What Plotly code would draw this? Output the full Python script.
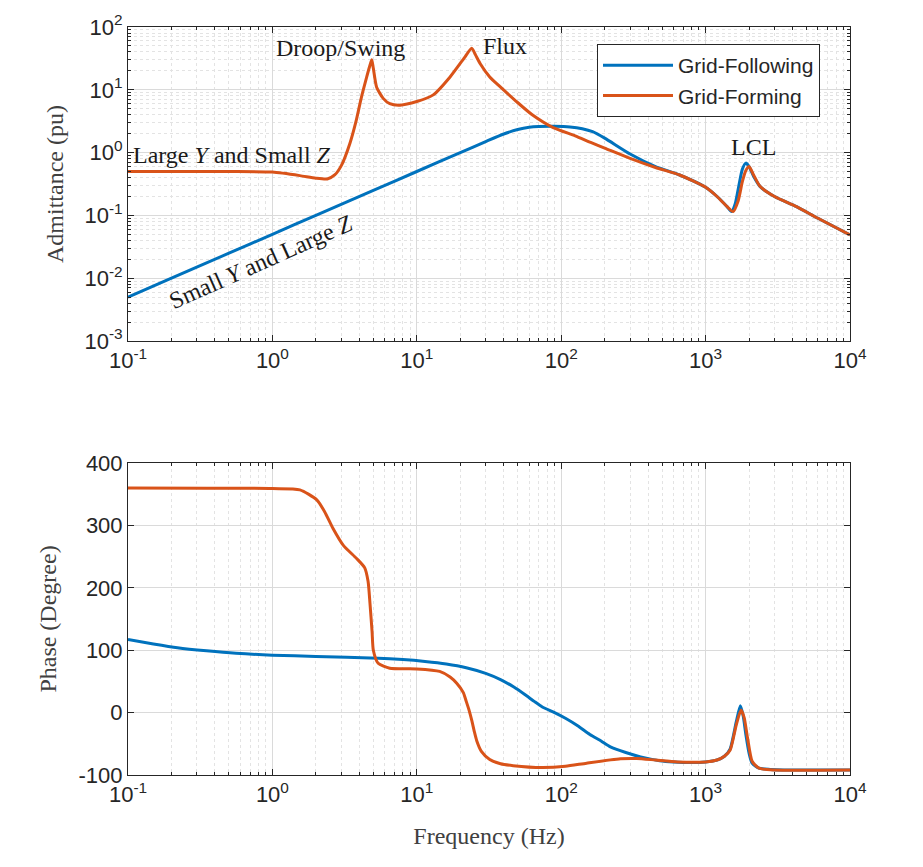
import plotly.graph_objects as go

# ---------------- data ----------------
freq_gfl_mag = [0.1, 0.2, 0.5, 1, 2, 5, 10, 20, 30, 40, 50, 60, 70, 90, 115, 140, 165, 200, 300,
                450, 661, 1000, 1200, 1400, 1510, 1600, 1700, 1800, 1900, 2000, 2150, 2380,
                3000, 4260, 6000, 10000]
mag_gfl = [0.005, 0.01, 0.025, 0.05, 0.1, 0.25, 0.5, 1.0, 1.5, 1.98, 2.33, 2.53, 2.6, 2.62, 2.56,
           2.4, 2.15, 1.7, 0.95, 0.6, 0.44, 0.28, 0.2, 0.14, 0.115, 0.15, 0.3, 0.55, 0.68,
           0.6, 0.42, 0.29, 0.2, 0.138, 0.09, 0.049]

freq_gfm_mag = [0.1, 0.5, 1.0, 1.55, 2.0, 2.4, 2.7, 3.0, 3.44, 3.8, 4.1, 4.5, 4.75, 4.88, 5.0,
                5.27, 5.85, 6.5, 7.65, 10, 13, 17, 21.2, 24, 25.5, 27.5, 32, 37.7, 49, 63, 88,
                125, 160, 200, 300, 450, 661, 1000, 1200, 1400, 1550, 1680, 1800, 1900, 2000,
                2150, 2380, 3000, 4260, 6000, 10000]
mag_gfm = [0.5, 0.5, 0.49, 0.43, 0.39, 0.38, 0.44, 0.62, 1.4, 3.2, 7.0, 16, 25, 30, 22,
           11, 7.3, 6.0, 5.7, 6.5, 8.3, 16, 31.6, 46, 36, 26, 16, 11.2, 6.5, 4.0, 2.5,
           1.85, 1.45, 1.18, 0.81, 0.58, 0.44, 0.28, 0.2, 0.14, 0.115, 0.17, 0.35, 0.52, 0.6,
           0.44, 0.29, 0.2, 0.138, 0.09, 0.049]

freq_gfl_ph = [0.1, 0.15, 0.22, 0.35, 0.56, 1.0, 2.0, 5.4, 8, 11.4, 16, 22, 30, 38, 47, 56, 65,
               74, 90, 107, 130, 158, 190, 219, 280, 355, 480, 600, 800, 1000, 1200, 1350,
               1480, 1630, 1740, 1820, 1900, 2000, 2100, 2340, 2800, 3500, 10000]
ph_gfl = [117, 110, 104, 99, 95, 92, 90, 87, 85, 82, 78, 72, 63, 53, 41, 29, 18,
          9, 0, -9, -21, -35, -46, -55, -64, -71, -77, -79, -80, -79, -76, -70,
          -58, -15, 11, -5, -35, -65, -81, -89, -91, -92, -92]

freq_gfm_ph = [0.1, 1.0, 1.55, 2.03, 2.3, 2.63, 3.1, 3.83, 4.36, 4.6, 4.74, 4.9, 5.0, 5.4, 6.5,
               10, 14.4, 17, 18.9, 21, 22, 23, 24, 25, 26, 28, 32, 38, 46.5, 74, 107, 150, 257,
               333, 450, 640, 1000, 1200, 1350, 1480, 1630, 1760, 1850, 1950, 2100, 2340, 3000,
               10000]
ph_gfm = [360, 359, 357, 341, 322, 295, 268, 247, 232, 210, 175, 130, 100, 79, 71,
          70, 66, 57, 47, 32, 18, 4, -12, -30, -45, -62, -75, -82, -85, -88, -86, -81, -74,
          -73.5, -76, -79, -79, -76, -70, -60, -20, 4, -8, -40, -78, -89, -92, -92]

x_ticks = [0.1, 1, 10, 100, 1000, 10000]
x_ticktext = ["10<sup>-1</sup>", "10<sup>0</sup>", "10<sup>1</sup>", "10<sup>2</sup>",
              "10<sup>3</sup>", "10<sup>4</sup>"]
y_mag_ticks = [0.001, 0.01, 0.1, 1, 10, 100]
y_mag_ticktext = ["10<sup>-3</sup>", "10<sup>-2</sup>", "10<sup>-1</sup>", "10<sup>0</sup>",
                  "10<sup>1</sup>", "10<sup>2</sup>"]
y_ph_ticks = [-100, 0, 100, 200, 300, 400]
y_ph_ticktext = ["-100", "0", "100", "200", "300", "400"]

series_names = ["Grid-Following", "Grid-Forming"]
colors = ["#0072BD", "#D95319"]

# minor log ticks (2..9 in each decade)
x_minor = [m * 10.0 ** k for k in range(-1, 4) for m in range(2, 10)]
y_minor = [m * 10.0 ** k for k in range(-3, 2) for m in range(2, 10)]

# ---------------- figure ----------------
fig = go.Figure()
line_kw = dict(width=3, shape="spline", smoothing=0.6)
fig.add_trace(go.Scatter(x=freq_gfl_mag, y=mag_gfl, mode="lines", name=series_names[0],
                         line=dict(color=colors[0], **line_kw), xaxis="x", yaxis="y"))
fig.add_trace(go.Scatter(x=freq_gfm_mag, y=mag_gfm, mode="lines", name=series_names[1],
                         line=dict(color=colors[1], **line_kw), xaxis="x", yaxis="y"))
fig.add_trace(go.Scatter(x=freq_gfl_ph, y=ph_gfl, mode="lines", showlegend=False,
                         line=dict(color=colors[0], **line_kw), xaxis="x2", yaxis="y2"))
fig.add_trace(go.Scatter(x=freq_gfm_ph, y=ph_gfm, mode="lines", showlegend=False,
                         line=dict(color=colors[1], **line_kw), xaxis="x2", yaxis="y2"))

W, H = 923, 867
OFF = 8  # page body margin
xdom = [(128 - OFF) / W, (850 - OFF) / W]
ydom1 = [1 - (341 - OFF) / H, 1 - (27 - OFF) / H]
ydom2 = [1 - (775 - OFF) / H, 1 - (463 - OFF) / H]

axcol = "#262626"
gridcol = "#dadada"
minorgrid = "#e3e3e3"
tickfont = dict(family="Liberation Sans, Arial", size=22, color=axcol)
titlefont = dict(family="Liberation Serif, Times New Roman", size=24, color="#404040")

def minor_dict(vals):
    return dict(tickmode="array", tickvals=vals, ticks="inside", ticklen=3, tickcolor=axcol,
                showgrid=True, gridcolor=minorgrid, griddash="dot", gridwidth=1)

def log_x(anchor, domain):
    return dict(type="log", range=[-1, 4], domain=domain, anchor=anchor, automargin=False,
                tickmode="array", tickvals=x_ticks, ticktext=x_ticktext, tickfont=tickfont,
                showline=True, linecolor=axcol, linewidth=1, mirror="ticks",
                ticks="inside", ticklen=6, tickcolor=axcol,
                showgrid=True, gridcolor=gridcol, gridwidth=1,
                minor=minor_dict(x_minor), zeroline=False)

fig.update_layout(
    width=W, height=H,
    margin=dict(l=0, r=0, t=0, b=0, autoexpand=False),
    paper_bgcolor="white", plot_bgcolor="white",
    showlegend=True,
    xaxis=log_x("y", xdom),
    yaxis=dict(type="log", range=[-3, 2], domain=ydom1, anchor="x", automargin=False,
               tickmode="array", tickvals=y_mag_ticks, ticktext=y_mag_ticktext, tickfont=tickfont,
               showline=True, linecolor=axcol, linewidth=1, mirror="ticks",
               ticks="inside", ticklen=6, tickcolor=axcol,
               showgrid=True, gridcolor=gridcol,
               minor=minor_dict(y_minor), zeroline=False,
               title=dict(text="Admittance (pu)", font=titlefont, standoff=14)),
    xaxis2=log_x("y2", xdom),
    yaxis2=dict(range=[-100, 400], domain=ydom2, anchor="x2", automargin=False,
                tickmode="array", tickvals=y_ph_ticks, ticktext=y_ph_ticktext, tickfont=tickfont,
                showline=True, linecolor=axcol, linewidth=1, mirror="ticks",
                ticks="inside", ticklen=6, tickcolor=axcol,
                showgrid=True, gridcolor=gridcol, zeroline=False,
                title=dict(text="Phase (Degree)", font=titlefont, standoff=15)),
    legend=dict(x=(597 - OFF) / W, y=1 - (44 - OFF) / H, xanchor="left", yanchor="top",
                xref="paper", yref="paper", itemwidth=70,
                bgcolor="white", bordercolor=axcol, borderwidth=1,
                font=dict(family="Liberation Sans, Arial", size=21, color=axcol),
                tracegroupgap=0),
)
fig.layout.xaxis2.title = dict(text="Frequency (Hz)", font=titlefont, standoff=20)

annfont = dict(family="Liberation Serif, Times New Roman", size=24, color="#1a1a1a")
annotations = [
    dict(x=0.475, y=1.67, text="Droop/Swing", textangle=0),
    dict(x=1.61, y=1.70, text="Flux", textangle=0),
    dict(x=3.33, y=0.09, text="LCL", textangle=0),
    dict(x=-0.28, y=-0.04, text="Large <i>Y</i> and Small <i>Z</i>", textangle=0),
    dict(x=-0.08, y=-1.74, text="Small <i>Y</i> and Large <i>Z</i>", textangle=-24),
]
for a in annotations:
    fig.add_annotation(xref="x", yref="y", showarrow=False, font=annfont, **a)

fig.write_html("out.html")
